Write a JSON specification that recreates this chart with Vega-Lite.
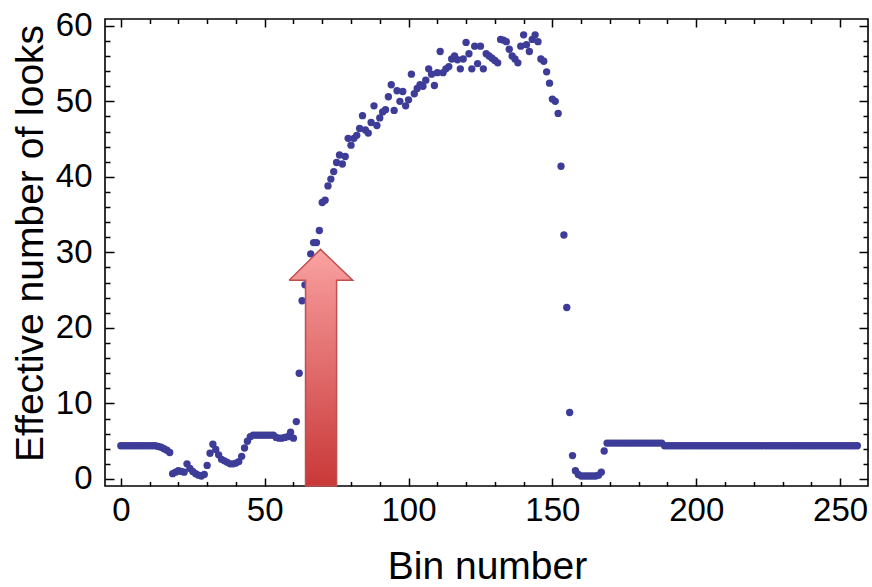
{
  "$schema": "https://vega.github.io/schema/vega-lite/v6.json",
  "width": 763,
  "height": 467,
  "autosize": "none",
  "padding": {"left": 105, "top": 19, "right": 4, "bottom": 101},
  "background": "white",
  "config": {
    "view": {"stroke": "black", "strokeWidth": 1.6},
    "font": "Liberation Sans",
    "axis": {"labelColor": "black", "titleColor": "black", "tickColor": "black", "grid": false, "domain": false, "tickWidth": 1.5}
  },
  "datasets": {
    "pts": [
      {"bin":0,"val":4.4},{"bin":1,"val":4.4},{"bin":2,"val":4.4},{"bin":3,"val":4.4},{"bin":4,"val":4.4},{"bin":5,"val":4.4},{"bin":6,"val":4.4},{"bin":7,"val":4.4},{"bin":8,"val":4.4},{"bin":9,"val":4.4},{"bin":10,"val":4.4},{"bin":11,"val":4.4},{"bin":12,"val":4.4},
      {"bin":13,"val":4.3},{"bin":14,"val":4.2},{"bin":15,"val":4.0},{"bin":16,"val":3.8},{"bin":17,"val":3.5},
      {"bin":18,"val":0.7},{"bin":19,"val":0.9},{"bin":20,"val":1.1},{"bin":21,"val":1.0},{"bin":22,"val":0.9},{"bin":23,"val":2.0},{"bin":24,"val":1.4},{"bin":25,"val":1.0},{"bin":26,"val":0.7},{"bin":27,"val":0.5},{"bin":28,"val":0.4},{"bin":29,"val":0.6},
      {"bin":30,"val":1.8},{"bin":31,"val":3.4},{"bin":32,"val":4.6},{"bin":33,"val":3.9},{"bin":34,"val":3.2},{"bin":35,"val":2.6},{"bin":36,"val":2.4},{"bin":37,"val":2.2},{"bin":38,"val":2.0},{"bin":39,"val":2.0},
      {"bin":40,"val":2.1},{"bin":41,"val":2.3},{"bin":42,"val":3.0},{"bin":43,"val":4.1},{"bin":44,"val":5.0},{"bin":45,"val":5.6},{"bin":46,"val":5.8},{"bin":47,"val":5.8},{"bin":48,"val":5.8},{"bin":49,"val":5.8},
      {"bin":50,"val":5.8},{"bin":51,"val":5.8},{"bin":52,"val":5.8},{"bin":53,"val":5.8},{"bin":54,"val":5.5},{"bin":55,"val":5.4},{"bin":56,"val":5.4},{"bin":57,"val":5.5},{"bin":58,"val":5.6},{"bin":59,"val":6.2},
      {"bin":60,"val":5.4},{"bin":61,"val":7.6},{"bin":62,"val":14.0},{"bin":63,"val":23.6},{"bin":64,"val":25.7},{"bin":65,"val":27.9},{"bin":66,"val":29.8},{"bin":67,"val":31.3},{"bin":68,"val":31.3},{"bin":69,"val":32.9},
      {"bin":70,"val":36.6},{"bin":71,"val":36.9},{"bin":72,"val":38.8},{"bin":73,"val":39.7},{"bin":74,"val":40.7},{"bin":75,"val":41.9},{"bin":76,"val":42.9},{"bin":77,"val":41.7},{"bin":78,"val":42.7},{"bin":79,"val":45.1},
      {"bin":80,"val":44.2},{"bin":81,"val":45.1},{"bin":82,"val":45.5},{"bin":83,"val":46.4},{"bin":84,"val":48.1},{"bin":85,"val":46.2},{"bin":86,"val":45.8},{"bin":87,"val":47.2},{"bin":88,"val":49.4},{"bin":89,"val":46.8},
      {"bin":90,"val":47.8},{"bin":91,"val":48.6},{"bin":92,"val":48.9},{"bin":93,"val":50.6},{"bin":94,"val":52.2},{"bin":95,"val":48.8},{"bin":96,"val":51.4},{"bin":97,"val":50.0},{"bin":98,"val":51.3},{"bin":99,"val":49.4},
      {"bin":100,"val":50.2},{"bin":101,"val":53.6},{"bin":102,"val":51.0},{"bin":103,"val":51.7},{"bin":104,"val":52.2},{"bin":105,"val":52.0},{"bin":106,"val":52.8},{"bin":107,"val":54.3},{"bin":108,"val":53.6},{"bin":109,"val":52.1},
      {"bin":110,"val":53.8},{"bin":111,"val":56.6},{"bin":112,"val":53.8},{"bin":113,"val":54.3},{"bin":114,"val":54.6},{"bin":115,"val":55.6},{"bin":116,"val":56.0},{"bin":117,"val":55.5},{"bin":118,"val":54.3},{"bin":119,"val":55.6},
      {"bin":120,"val":57.8},{"bin":121,"val":56.3},{"bin":122,"val":54.3},{"bin":123,"val":57.3},{"bin":124,"val":55.0},{"bin":125,"val":57.3},{"bin":126,"val":54.3},{"bin":127,"val":56.3},{"bin":128,"val":56.0},{"bin":129,"val":55.7},
      {"bin":130,"val":55.4},{"bin":131,"val":55.1},{"bin":132,"val":58.2},{"bin":133,"val":58.1},{"bin":134,"val":57.9},{"bin":135,"val":56.9},{"bin":136,"val":56.0},{"bin":137,"val":55.6},{"bin":138,"val":55.1},{"bin":139,"val":57.3},
      {"bin":140,"val":58.8},{"bin":141,"val":57.5},{"bin":142,"val":56.6},{"bin":143,"val":58.2},{"bin":144,"val":58.8},{"bin":145,"val":57.9},{"bin":146,"val":55.6},{"bin":147,"val":55.3},{"bin":148,"val":53.9},{"bin":149,"val":52.4},
      {"bin":150,"val":50.3},{"bin":151,"val":50.0},{"bin":152,"val":48.4},{"bin":153,"val":41.4},{"bin":154,"val":32.3},{"bin":155,"val":22.7},{"bin":156,"val":8.8},{"bin":157,"val":3.1},{"bin":158,"val":1.1},{"bin":159,"val":0.6},
      {"bin":160,"val":0.4},{"bin":161,"val":0.4},{"bin":162,"val":0.4},{"bin":163,"val":0.4},{"bin":164,"val":0.4},{"bin":165,"val":0.4},{"bin":166,"val":0.5},{"bin":167,"val":0.9},{"bin":168,"val":3.7},{"bin":169,"val":4.75},
      {"bin":170,"val":4.75},{"bin":171,"val":4.75},{"bin":172,"val":4.75},{"bin":173,"val":4.75},{"bin":174,"val":4.75},{"bin":175,"val":4.75},{"bin":176,"val":4.75},{"bin":177,"val":4.75},{"bin":178,"val":4.75},{"bin":179,"val":4.75},
      {"bin":180,"val":4.75},{"bin":181,"val":4.75},{"bin":182,"val":4.75},{"bin":183,"val":4.75},{"bin":184,"val":4.75},{"bin":185,"val":4.75},{"bin":186,"val":4.75},{"bin":187,"val":4.75},{"bin":188,"val":4.75},{"bin":189,"val":4.4},
      {"bin":190,"val":4.4},{"bin":191,"val":4.4},{"bin":192,"val":4.4},{"bin":193,"val":4.4},{"bin":194,"val":4.4},{"bin":195,"val":4.4},{"bin":196,"val":4.4},{"bin":197,"val":4.4},{"bin":198,"val":4.4},{"bin":199,"val":4.4},
      {"bin":200,"val":4.4},{"bin":201,"val":4.4},{"bin":202,"val":4.4},{"bin":203,"val":4.4},{"bin":204,"val":4.4},{"bin":205,"val":4.4},{"bin":206,"val":4.4},{"bin":207,"val":4.4},{"bin":208,"val":4.4},{"bin":209,"val":4.4},
      {"bin":210,"val":4.4},{"bin":211,"val":4.4},{"bin":212,"val":4.4},{"bin":213,"val":4.4},{"bin":214,"val":4.4},{"bin":215,"val":4.4},{"bin":216,"val":4.4},{"bin":217,"val":4.4},{"bin":218,"val":4.4},{"bin":219,"val":4.4},
      {"bin":220,"val":4.4},{"bin":221,"val":4.4},{"bin":222,"val":4.4},{"bin":223,"val":4.4},{"bin":224,"val":4.4},{"bin":225,"val":4.4},{"bin":226,"val":4.4},{"bin":227,"val":4.4},{"bin":228,"val":4.4},{"bin":229,"val":4.4},
      {"bin":230,"val":4.4},{"bin":231,"val":4.4},{"bin":232,"val":4.4},{"bin":233,"val":4.4},{"bin":234,"val":4.4},{"bin":235,"val":4.4},{"bin":236,"val":4.4},{"bin":237,"val":4.4},{"bin":238,"val":4.4},{"bin":239,"val":4.4},
      {"bin":240,"val":4.4},{"bin":241,"val":4.4},{"bin":242,"val":4.4},{"bin":243,"val":4.4},{"bin":244,"val":4.4},{"bin":245,"val":4.4},{"bin":246,"val":4.4},{"bin":247,"val":4.4},{"bin":248,"val":4.4},{"bin":249,"val":4.4},
      {"bin":250,"val":4.4},{"bin":251,"val":4.4},{"bin":252,"val":4.4},{"bin":253,"val":4.4},{"bin":254,"val":4.4},{"bin":255,"val":4.4},{"bin":256,"val":4.4}
    ],
    "head": [
      {"bin":58.5,"val":26.3,"val2":26.3},
      {"bin":69.4,"val":30.4,"val2":26.3},
      {"bin":80.6,"val":26.3,"val2":26.3}
    ],
    "shaft": [
      {"bin":64.2,"bin2":75.0,"val":26.35,"val2":-0.93}
    ],
    "outline": [
      {"i":0,"bin":58.5,"val":26.3},
      {"i":1,"bin":69.4,"val":30.4},
      {"i":2,"bin":80.6,"val":26.3},
      {"i":3,"bin":75.0,"val":26.3},
      {"i":4,"bin":75.0,"val":-0.93},
      {"i":5,"bin":64.2,"val":-0.93},
      {"i":6,"bin":64.2,"val":26.3},
      {"i":7,"bin":58.5,"val":26.3}
    ]
  },
  "layer": [
    {
      "data": {"name": "pts"},
      "mark": {"type": "point", "filled": true, "size": 54, "opacity": 1, "color": "#3D3D99", "strokeWidth": 0},
      "encoding": {
        "x": {"field": "bin", "type": "quantitative", "scale": {"domain": [-5.5, 259.7], "nice": false, "zero": false},
          "axis": {"orient": "bottom", "values": [0, 50, 100, 150, 200, 250], "ticks": false, "labelFontSize": 33, "labelPadding": 8, "labelFlush": false, "labelOverlap": false,
            "title": "Bin number", "titleFontSize": 39, "titleFontWeight": "normal", "titleX": 382, "titleY": 92, "titleBaseline": "alphabetic", "titleAlign": "center"}},
        "y": {"field": "val", "type": "quantitative", "scale": {"domain": [-0.93, 60.9], "nice": false, "zero": false},
          "axis": {"orient": "left", "values": [0, 10, 20, 30, 40, 50, 60], "ticks": false, "labelFontSize": 33, "labelPadding": 13, "labelFlush": false, "labelOverlap": false,
            "title": "Effective number of looks", "titleFontSize": 39, "titleFontWeight": "normal", "titleAngle": 270, "titleX": -63, "titleY": 224, "titleBaseline": "alphabetic", "titleAlign": "center"}}
      }
    },
    {
      "data": {"name": "shaft"},
      "mark": {"type": "rect", "strokeWidth": 0,
        "fill": {"gradient": "linear", "x1": 0, "y1": 0, "x2": 0, "y2": 1, "stops": [{"offset": 0, "color": "#F39292"}, {"offset": 1, "color": "#C93838"}]}},
      "encoding": {
        "x": {"field": "bin", "type": "quantitative", "scale": {"domain": [-5.5, 259.7], "nice": false, "zero": false},
          "axis": {"orient": "bottom", "values": [0,10,20,30,40,50,60,70,80,90,100,110,120,130,140,150,160,170,180,190,200,210,220,230,240,250], "labels": false, "title": null,
            "tickSize": {"condition": {"test": "datum.value % 50 === 0", "value": -8}, "value": -4.5}}},
        "x2": {"field": "bin2"},
        "y": {"field": "val", "type": "quantitative", "scale": {"domain": [-0.93, 60.9], "nice": false, "zero": false},
          "axis": {"orient": "left", "values": [0,2,4,6,8,10,12,14,16,18,20,22,24,26,28,30,32,34,36,38,40,42,44,46,48,50,52,54,56,58,60], "labels": false, "title": null,
            "tickSize": {"condition": {"test": "datum.value % 10 === 0", "value": -9}, "value": -5}}},
        "y2": {"field": "val2"}
      }
    },
    {
      "data": {"name": "head"},
      "mark": {"type": "area", "opacity": 1, "strokeWidth": 0,
        "fill": {"gradient": "linear", "x1": 0, "y1": 0, "x2": 0, "y2": 1, "stops": [{"offset": 0, "color": "#FCA3A3"}, {"offset": 1, "color": "#F39393"}]}},
      "encoding": {
        "x": {"field": "bin", "type": "quantitative", "scale": {"domain": [-5.5, 259.7], "nice": false, "zero": false},
          "axis": {"orient": "top", "values": [0,10,20,30,40,50,60,70,80,90,100,110,120,130,140,150,160,170,180,190,200,210,220,230,240,250], "labels": false, "title": null,
            "tickSize": {"condition": {"test": "datum.value % 50 === 0", "value": -8}, "value": -4.5}}},
        "y": {"field": "val", "type": "quantitative", "scale": {"domain": [-0.93, 60.9], "nice": false, "zero": false},
          "axis": {"orient": "right", "values": [0,2,4,6,8,10,12,14,16,18,20,22,24,26,28,30,32,34,36,38,40,42,44,46,48,50,52,54,56,58,60], "labels": false, "title": null,
            "tickSize": {"condition": {"test": "datum.value % 10 === 0", "value": -9}, "value": -5}}},
        "y2": {"field": "val2"}
      }
    },
    {
      "data": {"name": "outline"},
      "mark": {"type": "line", "color": "#C0504D", "strokeWidth": 1.5, "strokeJoin": "miter"},
      "encoding": {
        "x": {"field": "bin", "type": "quantitative", "scale": {"domain": [-5.5, 259.7], "nice": false, "zero": false}, "axis": null},
        "y": {"field": "val", "type": "quantitative", "scale": {"domain": [-0.93, 60.9], "nice": false, "zero": false}, "axis": null},
        "order": {"field": "i", "type": "quantitative"}
      }
    }
  ],
  "resolve": {"axis": {"x": "independent", "y": "independent"}}
}
